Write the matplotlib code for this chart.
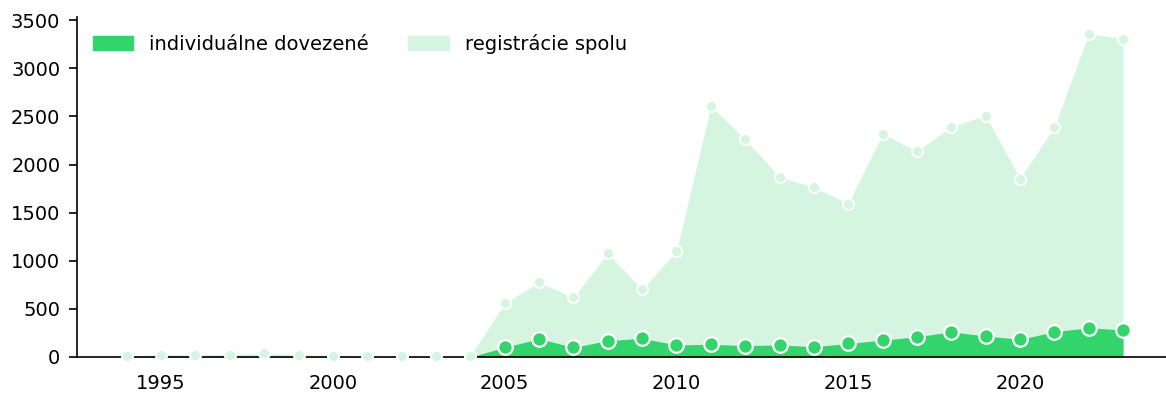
import numpy as np
import matplotlib.pyplot as plt
from matplotlib.patches import Patch

# yearly counts
years = np.arange(1994, 2024)
registracie = [5, 25, 20, 25, 40, 20, 15, 5, 5, 5, 10,
               557, 775, 620, 1077, 703, 1100, 2605, 2265, 1870, 1765,
               1595, 2320, 2140, 2395, 2510, 1855, 2390, 3362, 3310]
individualne = [0, 8, 8, 8, 8, 5, 5, 0, 0, 0, 0,
                100, 190, 100, 170, 194, 125, 132, 118, 125, 107,
                140, 175, 210, 262, 218, 184, 262, 304, 280]

dark = "#33d46b"
light = "#d6f5e1"

fig = plt.figure(figsize=(11.66, 3.94), dpi=100)
ax = fig.add_axes([0.066, 0.094, 0.934, 0.863])

ax.fill_between(years, 0, registracie, color=light, lw=0, zorder=1)
ax.fill_between(years, 0, individualne, color=dark, lw=0, zorder=2)

# markers only where the imported series is non-zero
ind = np.array(individualne)
mask = years >= 2005
ax.plot(years[mask], ind[mask], ls="none", marker="o", ms=10.5,
        mfc=dark, mec="white", mew=1.6, zorder=3, clip_on=False)
ax.plot(years, registracie, ls="none", marker="o", ms=8,
        mfc=light, mec="white", mew=1.4, zorder=4, clip_on=False)

ax.set_xlim(1992.55, 2024.25)
ax.set_ylim(0, 3535)
ax.set_yticks(np.arange(0, 3501, 500))
ax.set_xticks([1995, 2000, 2005, 2010, 2015, 2020])

for s in ["top", "right"]:
    ax.spines[s].set_visible(False)
ax.spines["left"].set_linewidth(1.2)
ax.spines["bottom"].set_linewidth(1.2)
ax.tick_params(axis="y", labelsize=14, length=6, width=1.2, pad=6)
ax.tick_params(axis="x", labelsize=14, length=0, pad=12)

handles = [Patch(color=dark, label="individuálne dovezené"),
           Patch(color=light, label="registrácie spolu")]
ax.legend(handles=handles, loc="upper left", ncol=2, frameon=False,
          fontsize=14, bbox_to_anchor=(0.0, 0.995), handlelength=2.1,
          handleheight=0.72, columnspacing=2.05, handletextpad=0.8,
          borderaxespad=0.4)

fig.savefig("out.png", dpi=100)
